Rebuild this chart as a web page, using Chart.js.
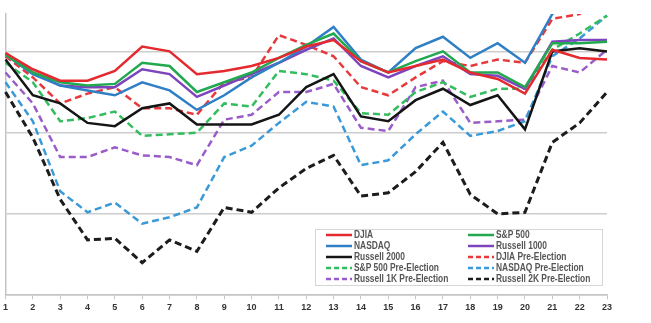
<!DOCTYPE html>
<html>
<head>
<meta charset="utf-8">
<script src="https://cdn.jsdelivr.net/npm/chart.js@4.4.1/dist/chart.umd.min.js"></script>
<style>
  html, body { margin: 0; padding: 0; background: #fff; }
  #wrap { width: 651px; height: 323px; position: relative; }
</style>
</head>
<body>
<div id="wrap"><canvas id="c" width="651" height="323"></canvas></div>
<script>
// Trading days of the month
const days = ['1','2','3','4','5','6','7','8','9','10','11','12','13','14','15','16','17','18','19','20','21','22','23'];

// Average cumulative % change by trading day
const djia     = [4.9, 3.9, 3.2, 3.2, 3.8, 5.3, 5.0, 3.6, 3.8, 4.1, 4.6, 5.3, 5.7, 4.4, 3.7, 4.1, 4.5, 3.7, 3.3, 2.4, 5.1, 4.6, 4.5];
const sp500    = [4.8, 3.7, 3.1, 2.9, 3.0, 4.3, 4.1, 2.5, 3.1, 3.7, 4.6, 5.4, 6.1, 4.4, 3.7, 4.4, 5.0, 3.7, 3.7, 2.8, 5.5, 5.5, 5.6];
const nasdaq   = [4.8, 3.6, 2.9, 2.6, 2.3, 3.1, 2.6, 1.4, 2.3, 3.4, 4.3, 5.3, 6.5, 4.5, 3.7, 5.2, 5.9, 4.6, 5.5, 4.3, 7.3, 8.6, 8.6];
const r1000    = [4.9, 3.7, 2.9, 2.8, 2.8, 3.9, 3.6, 2.2, 2.9, 3.6, 4.3, 5.1, 5.8, 4.1, 3.4, 4.1, 4.7, 3.6, 3.5, 2.7, 5.6, 5.7, 5.7];
const r2000    = [4.5, 2.3, 1.8, 0.6, 0.4, 1.5, 1.8, 0.5, 0.5, 0.5, 1.1, 2.8, 3.6, 1.0, 0.7, 2.0, 2.7, 1.7, 2.3, 0.2, 5.0, 5.2, 5.0];
const djiaPre  = [4.7, 3.4, 1.8, 2.4, 2.8, 1.5, 1.5, 1.1, 3.1, 3.4, 6.0, 5.4, 4.7, 2.8, 2.3, 3.4, 4.4, 4.1, 4.5, 4.3, 7.0, 7.3, 8.6];
const spPre    = [4.3, 3.1, 0.7, 0.9, 1.3, -0.2, -0.1, 0.0, 1.8, 1.6, 3.8, 3.6, 3.2, 1.2, 1.1, 2.5, 3.1, 2.2, 2.7, 2.7, 5.1, 6.1, 7.2];
const nasdaqPre= [3.1, 0.7, -3.6, -4.9, -4.3, -5.6, -5.2, -4.6, -1.5, -0.8, 0.6, 1.9, 1.6, -2.0, -1.7, -0.1, 1.3, -0.2, 0.1, 0.7, 4.7, 5.8, 7.2];
const r1kPre   = [3.7, 1.8, -1.5, -1.5, -0.9, -1.4, -1.5, -2.0, 0.8, 1.1, 2.5, 2.5, 3.0, 0.3, 0.1, 2.8, 3.2, 0.6, 0.7, 0.8, 4.1, 3.7, 5.1];
const r2kPre   = [2.5, -0.3, -4.1, -6.6, -6.5, -8.0, -6.6, -7.3, -4.6, -4.9, -3.4, -2.2, -1.4, -3.9, -3.7, -2.4, -0.6, -3.8, -5.0, -4.9, -0.6, 0.6, 2.5];

// Horizontal reference levels
const yLevels = [-10, -5, 0, 5];

const DASH = [7, 4];
function series(label, data, color, dashed, width) {
  return {
    label, data,
    borderColor: color,
    backgroundColor: color,
    borderWidth: width || 2.5,
    borderDash: dashed ? DASH : [],
    pointRadius: 0,
    tension: 0,
    fill: false
  };
}

const datasets = [
  series('DJIA', djia, '#e52a2f', false),
  series('S&P 500', sp500, '#22a84f', false),
  series('NASDAQ', nasdaq, '#2f7fc6', false),
  series('Russell 1000', r1000, '#7d45bd', false),
  series('Russell 2000', r2000, '#151515', false),
  series('DJIA Pre-Election', djiaPre, '#e8383c', true),
  series('S&P 500 Pre-Election', spPre, '#33bd5e', true),
  series('NASDAQ Pre-Election', nasdaqPre, '#3a9ad8', true),
  series('Russell 1K Pre-Election', r1kPre, '#9a5cc8', true),
  series('Russell 2K Pre-Election', r2kPre, '#1c1c1c', true, 3)
];

// Two-column legend boxed inside the lower right of the plot
const boxedLegend = {
  id: 'boxedLegend',
  afterDatasetsDraw(chart) {
    const ctx = chart.ctx;
    const box = { x: 315, y: 229, w: 287, h: 56 };
    const cols = [326, 468];
    const lineLen = 26;
    const rowY0 = 235, rowStep = 11;
    ctx.save();
    ctx.fillStyle = '#ffffff';
    ctx.fillRect(box.x, box.y, box.w, box.h);
    ctx.strokeStyle = '#d6d6d6';
    ctx.lineWidth = 1;
    ctx.strokeRect(box.x + 0.5, box.y + 0.5, box.w, box.h);
    ctx.font = 'bold 10px "Liberation Sans", Arial, sans-serif';
    ctx.textBaseline = 'middle';
    chart.data.datasets.forEach((ds, i) => {
      const col = i % 2, row = Math.floor(i / 2);
      const x = cols[col], y = rowY0 + row * rowStep;
      ctx.beginPath();
      ctx.setLineDash(ds.borderDash.length ? [5, 3] : []);
      ctx.strokeStyle = ds.borderColor;
      ctx.lineWidth = 2.5;
      ctx.moveTo(x, y);
      ctx.lineTo(x + lineLen, y);
      ctx.stroke();
      ctx.setLineDash([]);
      ctx.fillStyle = '#555555';
      const w = ctx.measureText(ds.label).width * 0.84;
      ctx.fillText(ds.label, x + lineLen + 2, y + 0.5, w);
    });
    ctx.restore();
  }
};

new Chart(document.getElementById('c'), {
  type: 'line',
  data: { labels: days, datasets },
  options: {
    responsive: false,
    animation: false,
    devicePixelRatio: 1,
    layout: { padding: { left: 5, right: 44, top: 14, bottom: 7 } },
    plugins: { legend: { display: false }, tooltip: { enabled: false } },
    scales: {
      x: {
        type: 'category',
        offset: false,
        grid: { display: true, drawOnChartArea: false, drawTicks: true, tickLength: 4, color: '#c4c4c4', lineWidth: 1 },
        border: { display: true, color: '#c4c4c4', width: 1.5 },
        ticks: {
          autoSkip: false, maxRotation: 0, padding: 3,
          color: '#333333',
          font: { family: '"Liberation Sans", Arial, sans-serif', size: 9, weight: 'bold' }
        }
      },
      y: {
        min: -10,
        max: 7.3,
        afterBuildTicks(scale) { scale.ticks = yLevels.map(v => ({ value: v })); },
        ticks: { display: false },
        grid: { color: '#cdcdcd', lineWidth: 1.5, drawTicks: false },
        border: { display: true, color: '#c4c4c4', width: 1.5 }
      }
    }
  },
  plugins: [boxedLegend]
});
</script>
</body>
</html>
